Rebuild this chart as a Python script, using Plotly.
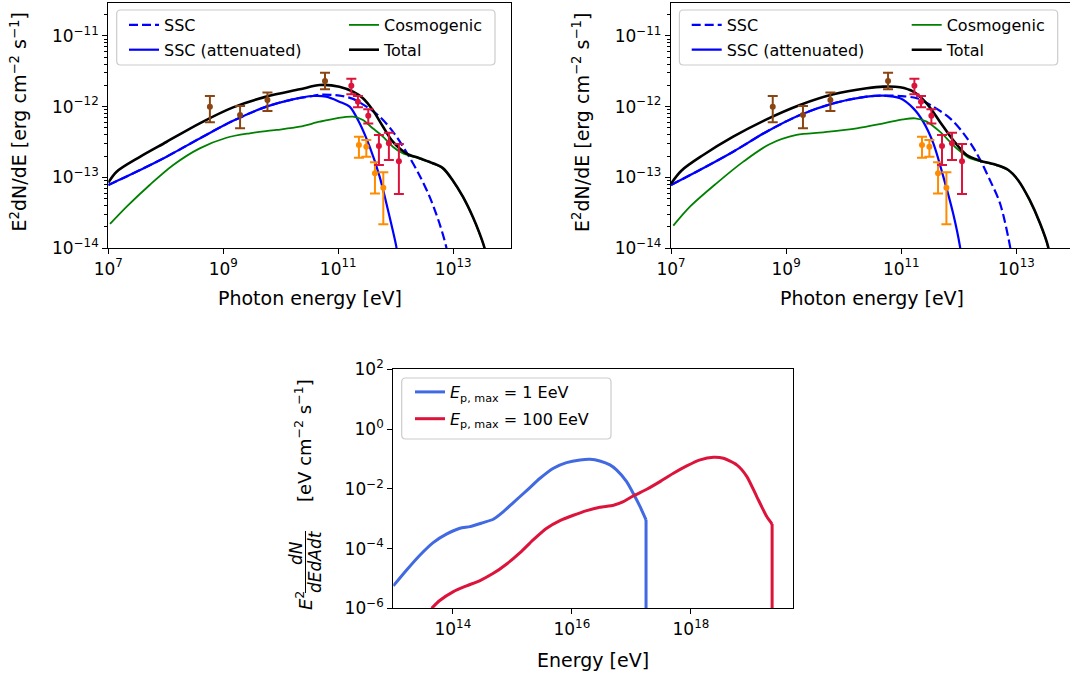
import numpy as np
import plotly.graph_objects as go

W, H = 1070, 677
FONT = "DejaVu Sans"

# ---------------- Top panels: measured data points ----------------
fermi_E = [5.85e8, 1.96e9, 5.87e9, 5.89e10]
fermi_F = [1.00e-12, 7.6e-13, 1.24e-12, 2.31e-12]
fermi_hi = [1.42e-12, 1.02e-12, 1.58e-12, 3.03e-12]
fermi_lo = [6.0e-13, 4.94e-13, 8.7e-13, 1.76e-12]

red_E = [1.69e11, 2.20e11, 3.33e11, 5.10e11, 7.60e11, 1.135e12]
red_F = [1.98e-12, 1.17e-12, 7.45e-13, 2.77e-13, 3.03e-13, 1.69e-13]
red_hi = [2.49e-12, 1.42e-12, 9.2e-13, 3.97e-13, 4.28e-13, 2.96e-13]
red_lo = [1.50e-12, 9.8e-13, 5.8e-13, 1.49e-13, 1.76e-13, 5.8e-14]

orange_E = [2.29e11, 3.08e11, 4.35e11, 6.08e11]
orange_F = [2.86e-13, 2.71e-13, 1.14e-13, 7.1e-14]
orange_hi = [3.76e-13, 3.37e-13, 1.63e-13, 1.18e-13]
orange_lo = [1.90e-13, 1.96e-13, 5.9e-14, 2.16e-14]

# ---------------- Top-left model curves (log10 E, log10 E^2dN/dE) ----------------
L_ssc_logE = [7.0, 7.435, 8.014, 8.59, 9.17, 9.75, 10.21, 10.56, 10.678, 11.025, 11.257,
              11.49, 11.72, 11.95, 12.18, 12.41, 12.587, 12.76, 12.877, 12.9]
L_ssc_logF = [-13.108, -12.943, -12.708, -12.45, -12.20, -12.0, -11.896, -11.849, -11.83, -11.843, -11.89,
              -12.0, -12.14, -12.353, -12.636, -12.966, -13.27, -13.65, -13.98, -14.1]

L_att_logE = [7.0, 7.435, 8.014, 8.59, 9.17, 9.75, 10.21, 10.56, 10.79, 11.02, 11.198,
              11.372, 11.546, 11.72, 11.864, 12.01, 12.03]
L_att_logF = [-13.108, -12.943, -12.708, -12.45, -12.20, -12.0, -11.896, -11.849, -11.858, -11.929, -12.0,
              -12.236, -12.567, -12.99, -13.46, -13.98, -14.1]

L_cos_logE = [7.03, 7.32, 7.72, 8.13, 8.59, 9.056, 9.46, 9.925, 10.33, 10.678, 10.967, 11.256,
              11.43, 11.60, 11.777, 11.95, 12.12, 12.414, 12.646, 12.82, 12.99, 13.166, 13.34,
              13.457, 13.545, 13.6]
L_cos_logF = [-13.66, -13.415, -13.108, -12.825, -12.59, -12.44, -12.377, -12.33, -12.283, -12.213, -12.165, -12.142,
              -12.19, -12.306, -12.425, -12.567, -12.66, -12.735, -12.805, -12.875, -13.045, -13.275, -13.56,
              -13.8, -14.0, -14.2]

L_tot_logE = [7.0, 7.145, 7.55, 8.01, 8.59, 9.17, 9.75, 10.33, 10.68, 11.02, 11.257, 11.43, 11.60,
              11.777, 11.95, 12.18, 12.414, 12.646, 12.82, 12.99, 13.166, 13.34, 13.457, 13.545, 13.6]
L_tot_logF = [-13.075, -12.92, -12.71, -12.50, -12.236, -12.01, -11.858, -11.755, -11.693, -11.717, -11.788, -11.88, -12.047,
              -12.28, -12.496, -12.66, -12.73, -12.80, -12.87, -13.04, -13.27, -13.557, -13.79, -14.0, -14.2]

# ---------------- Top-right model curves ----------------
R_ssc_logE = [7.0, 7.50, 8.08, 8.66, 9.24, 9.82, 10.40, 10.69, 10.98, 11.27, 11.557, 11.847,
              12.08, 12.31, 12.54, 12.716, 12.89, 12.91]
R_ssc_logF = [-13.108, -12.896, -12.637, -12.354, -12.118, -11.953, -11.858, -11.844, -11.849, -11.882, -12.0, -12.165,
              -12.377, -12.66, -13.04, -13.37, -13.98, -14.1]

R_att_logE = [7.0, 7.50, 8.08, 8.66, 9.24, 9.82, 10.40, 10.69, 10.98, 11.21, 11.38, 11.557,
              11.73, 11.90, 12.02, 12.04]
R_att_logF = [-13.108, -12.896, -12.637, -12.354, -12.118, -11.953, -11.858, -11.844, -11.882, -12.024, -12.212, -12.519,
              -12.99, -13.51, -13.98, -14.1]

R_cos_logE = [7.04, 7.33, 7.79, 8.257, 8.72, 9.18, 9.647, 10.226, 10.69, 11.036, 11.24, 11.44, 11.67,
              11.96, 12.19, 12.37, 12.657, 12.86, 13.03, 13.23, 13.41, 13.55, 13.57]
R_cos_logF = [-13.684, -13.415, -13.085, -12.778, -12.528, -12.40, -12.363, -12.307, -12.236, -12.179, -12.165, -12.212, -12.354,
              -12.59, -12.73, -12.77, -12.83, -12.9, -13.045, -13.325, -13.655, -13.985, -14.1]

R_tot_logE = [7.0, 7.18, 7.56, 8.08, 8.66, 9.24, 9.82, 10.40, 10.69, 10.98, 11.21, 11.44, 11.67, 11.90,
              12.136, 12.37, 12.657, 12.86, 13.03, 13.23, 13.41, 13.55, 13.57]
R_tot_logF = [-13.09, -12.906, -12.684, -12.425, -12.18, -11.976, -11.825, -11.74, -11.717, -11.726, -11.788, -11.953, -12.212, -12.472,
              -12.684, -12.764, -12.825, -12.896, -13.04, -13.32, -13.65, -13.98, -14.1]

# ---------------- Bottom panel curves ----------------
b1_logE = [13.0, 13.224, 13.45, 13.67, 13.90, 14.12, 14.29, 14.51, 14.68, 14.85, 15.017, 15.24, 15.465,
           15.69, 15.91, 16.137, 16.305, 16.47, 16.64, 16.75, 16.92, 17.03, 17.146, 17.246, 17.246]
b1_logF = [-5.25, -4.717, -4.214, -3.80, -3.51, -3.32, -3.266, -3.13, -3.02, -2.763, -2.46, -2.06, -1.647,
           -1.31, -1.123, -1.033, -1.011, -1.067, -1.20, -1.368, -1.76, -2.15, -2.60, -3.04, -8.0]

b100_logE = [13.644, 13.78, 14.01, 14.23, 14.457, 14.68, 14.905, 15.13, 15.35, 15.577, 15.80, 16.025, 16.25,
             16.47, 16.70, 16.865, 17.03, 17.258, 17.48, 17.706, 17.93, 18.154, 18.38, 18.546, 18.77, 18.94,
             19.106, 19.274, 19.364, 19.364]
b100_logF = [-6.0, -5.74, -5.44, -5.25, -5.07, -4.83, -4.515, -4.136, -3.71, -3.32, -3.065, -2.886, -2.73,
             -2.618, -2.55, -2.43, -2.24, -2.016, -1.76, -1.48, -1.234, -1.033, -0.944, -0.978, -1.20, -1.59,
             -2.26, -2.93, -3.18, -8.0]

top_xticks = [1e7, 1e9, 1e11, 1e13]
top_xtick_text = ["10<sup>7</sup>", "10<sup>9</sup>", "10<sup>11</sup>", "10<sup>13</sup>"]
top_yticks = [1e-14, 1e-13, 1e-12, 1e-11]
top_ytick_text = ["10<sup>\u221214</sup>", "10<sup>\u221213</sup>", "10<sup>\u221212</sup>", "10<sup>\u221211</sup>"]
bot_xticks = [1e14, 1e16, 1e18]
bot_xtick_text = ["10<sup>14</sup>", "10<sup>16</sup>", "10<sup>18</sup>"]
bot_yticks = [1e-6, 1e-4, 1e-2, 1e0, 1e2]
bot_ytick_text = ["10<sup>\u22126</sup>", "10<sup>\u22124</sup>", "10<sup>\u22122</sup>", "10<sup>0</sup>", "10<sup>2</sup>"]

C_BROWN = "#8B4513"
C_RED = "#DC143C"
C_ORANGE = "#FF8C00"


def P(a):
    return 10 ** np.array(a, dtype=float)


def px_x(v):
    return v / W


def px_y(v):
    return 1 - v / H


fig = go.Figure()
SM = 0.9


def add_top_panel(xa, ya, curves, legA, legB):
    (ssc_e, ssc_f), (att_e, att_f), (cos_e, cos_f), (tot_e, tot_f) = curves
    fig.add_trace(go.Scatter(x=P(ssc_e), y=P(ssc_f), mode="lines", name="SSC",
                             line=dict(color="#0000FF", width=2.2, dash="9px,4px", shape="spline", smoothing=SM),
                             xaxis=xa, yaxis=ya, legend=legA, legendgroup=legA + "a", legendrank=1))
    fig.add_trace(go.Scatter(x=P(att_e), y=P(att_f), mode="lines", name="SSC (attenuated)",
                             line=dict(color="#0000FF", width=2.2, shape="spline", smoothing=SM),
                             xaxis=xa, yaxis=ya, legend=legA, legendgroup=legA + "b", legendrank=2))
    fig.add_trace(go.Scatter(x=P(cos_e), y=P(cos_f), mode="lines", name="Cosmogenic",
                             line=dict(color="#008000", width=1.8, shape="spline", smoothing=SM),
                             xaxis=xa, yaxis=ya, legend=legB, legendgroup=legB + "a", legendrank=1))
    fig.add_trace(go.Scatter(x=P(tot_e), y=P(tot_f), mode="lines", name="Total",
                             line=dict(color="#000000", width=2.6, shape="spline", smoothing=SM),
                             xaxis=xa, yaxis=ya, legend=legB, legendgroup=legB + "b", legendrank=2))
    for E, F, hi, lo, col in [(fermi_E, fermi_F, fermi_hi, fermi_lo, C_BROWN),
                              (orange_E, orange_F, orange_hi, orange_lo, C_ORANGE),
                              (red_E, red_F, red_hi, red_lo, C_RED)]:
        F = np.array(F)
        fig.add_trace(go.Scatter(
            x=E, y=F, mode="markers", showlegend=False,
            marker=dict(color=col, size=6),
            error_y=dict(type="data", symmetric=False, array=np.array(hi) - F,
                         arrayminus=F - np.array(lo), color=col, thickness=2, width=5),
            xaxis=xa, yaxis=ya))


add_top_panel("x", "y", [(L_ssc_logE, L_ssc_logF), (L_att_logE, L_att_logF),
                         (L_cos_logE, L_cos_logF), (L_tot_logE, L_tot_logF)], "legend", "legend2")
add_top_panel("x2", "y2", [(R_ssc_logE, R_ssc_logF), (R_att_logE, R_att_logF),
                           (R_cos_logE, R_cos_logF), (R_tot_logE, R_tot_logF)], "legend3", "legend4")

# bottom: smooth body of each curve, then the straight vertical cut-off (last two points)
for lE, lF, col, nm, grp in [(b1_logE, b1_logF, "#4169E1", "<i>E</i><sub>p, max</sub> = 1 EeV", "g5a"),
                             (b100_logE, b100_logF, "#DC143C", "<i>E</i><sub>p, max</sub> = 100 EeV", "g5b")]:
    fig.add_trace(go.Scatter(x=P(lE[:-1]), y=P(lF[:-1]), mode="lines", name=nm,
                             line=dict(color=col, width=3, shape="spline", smoothing=0.6),
                             xaxis="x3", yaxis="y3", legend="legend5", legendgroup=grp))
    fig.add_trace(go.Scatter(x=P(lE[-2:]), y=P(lF[-2:]), mode="lines", showlegend=False,
                             line=dict(color=col, width=3),
                             xaxis="x3", yaxis="y3", legend="legend5", legendgroup=grp))

axis_common = dict(type="log", showline=True, linecolor="black", linewidth=1.3,
                   ticks="outside", ticklen=5, tickwidth=1.3, tickcolor="black",
                   showgrid=False, zeroline=False, automargin=False,
                   tickfont=dict(family=FONT, size=17, color="black"))

top_minor = [m * 10.0 ** e for e in range(-14, -10) for m in range(2, 10)]
top_minor = [v for v in top_minor if v <= 2.93e-11]

y_top = [px_y(248), px_y(3)]

fig.update_layout(
    width=W, height=H, margin=dict(l=0, r=0, t=0, b=0),
    paper_bgcolor="white", plot_bgcolor="white",
    font=dict(family=FONT, size=16, color="black"),
    xaxis=dict(axis_common, domain=[px_x(108.3), px_x(510.7)], range=[7, 14],
               tickvals=top_xticks, ticktext=top_xtick_text, mirror=True, anchor="y"),
    yaxis=dict(axis_common, domain=y_top, range=[-14, np.log10(2.93e-11)],
               tickvals=top_yticks, ticktext=top_ytick_text, mirror=True, anchor="x",
               minor=dict(tickvals=top_minor, ticks="outside", ticklen=3, tickwidth=1, tickcolor="black")),
    xaxis2=dict(axis_common, domain=[px_x(671), 1.0], range=[7, 7 + (1070 - 671) / 57.57],
                tickvals=top_xticks, ticktext=top_xtick_text, mirror=True, anchor="y2"),
    yaxis2=dict(axis_common, domain=y_top, range=[-14, np.log10(2.93e-11)],
                tickvals=top_yticks, ticktext=top_ytick_text, mirror=False, anchor="x2",
                minor=dict(tickvals=top_minor, ticks="outside", ticklen=3, tickwidth=1, tickcolor="black")),
    xaxis3=dict(axis_common, domain=[px_x(393.3), px_x(792.7)], range=[13, 19.71],
                tickvals=bot_xticks, ticktext=bot_xtick_text, mirror=True, anchor="y3"),
    yaxis3=dict(axis_common, domain=[px_y(608.3), px_y(369.3)], range=[-6, 2],
                tickvals=bot_yticks, ticktext=bot_ytick_text, mirror=True, anchor="x3"),
    showlegend=True,
)

leg_common = dict(orientation="v", xanchor="left", yanchor="top", bgcolor="rgba(0,0,0,0)",
                  borderwidth=0, font=dict(family=FONT, size=16, color="black"),
                  tracegroupgap=1, traceorder="grouped")
fig.update_layout(
    legend=dict(leg_common, x=px_x(124), y=px_y(8)),
    legend2=dict(leg_common, x=px_x(344), y=px_y(8)),
    legend3=dict(leg_common, x=px_x(124 + 562.7), y=px_y(8)),
    legend4=dict(leg_common, x=px_x(344 + 562.7), y=px_y(8)),
    legend5=dict(leg_common, x=px_x(410), y=px_y(375), tracegroupgap=3),
)


def rounded_box(x0, y0, x1, y1, r=4):
    X0, X1 = px_x(x0), px_x(x1)
    Y0, Y1 = px_y(y0), px_y(y1)  # Y0 top, Y1 bottom
    rx, ry = r / W, r / H
    return (f"M {X0 + rx},{Y0} L {X1 - rx},{Y0} Q {X1},{Y0} {X1},{Y0 - ry} "
            f"L {X1},{Y1 + ry} Q {X1},{Y1} {X1 - rx},{Y1} L {X0 + rx},{Y1} "
            f"Q {X0},{Y1} {X0},{Y1 + ry} L {X0},{Y0 - ry} Q {X0},{Y0} {X0 + rx},{Y0} Z")


for (x0, y0, x1, y1) in [(116.7, 10, 495, 65), (679.4, 10, 1057.7, 65), (401.7, 378, 611, 439)]:
    fig.add_shape(type="path", path=rounded_box(x0, y0, x1, y1), xref="paper", yref="paper",
                  line=dict(color="#CCCCCC", width=1.2), fillcolor="rgba(255,255,255,0.8)", layer="above")

ann = []
lab_font = dict(family=FONT, size=19, color="black")
ann.append(dict(text="E<sup>2</sup>dN/dE [erg cm<sup>\u22122</sup> s<sup>\u22121</sup>]", x=px_x(18.5), y=px_y(122),
                textangle=-90, font=lab_font))
ann.append(dict(text="E<sup>2</sup>dN/dE [erg cm<sup>\u22122</sup> s<sup>\u22121</sup>]", x=px_x(581), y=px_y(122),
                textangle=-90, font=lab_font))
ann.append(dict(text="Photon energy [eV]", x=px_x(309.5), y=px_y(298), font=lab_font))
ann.append(dict(text="Photon energy [eV]", x=px_x(872), y=px_y(298), font=lab_font))
ann.append(dict(text="Energy [eV]", x=px_x(593), y=px_y(660), font=lab_font))
# bottom y label (fraction built from pieces)
ann.append(dict(text="[eV cm<sup>\u22122</sup> s<sup>\u22121</sup>]", x=px_x(303), y=px_y(441),
                textangle=-90, font=dict(family=FONT, size=18, color="black")))
ann.append(dict(text="<i>E</i><sup>2</sup>", x=px_x(304), y=px_y(601),
                textangle=-90, font=dict(family=FONT, size=18, color="black")))
ann.append(dict(text="<i>dN</i>", x=px_x(296), y=px_y(553),
                textangle=-90, font=dict(family=FONT, size=17, color="black")))
ann.append(dict(text="<i>dEdAdt</i>", x=px_x(315), y=px_y(562),
                textangle=-90, font=dict(family=FONT, size=17, color="black")))
for a in ann:
    a.update(xref="paper", yref="paper", showarrow=False, xanchor="center", yanchor="middle")
fig.update_layout(annotations=ann)
fig.add_shape(type="line", xref="paper", yref="paper", x0=px_x(305.5), x1=px_x(305.5),
              y0=px_y(531), y1=px_y(593), line=dict(color="black", width=1))

fig.write_html("out.html")
